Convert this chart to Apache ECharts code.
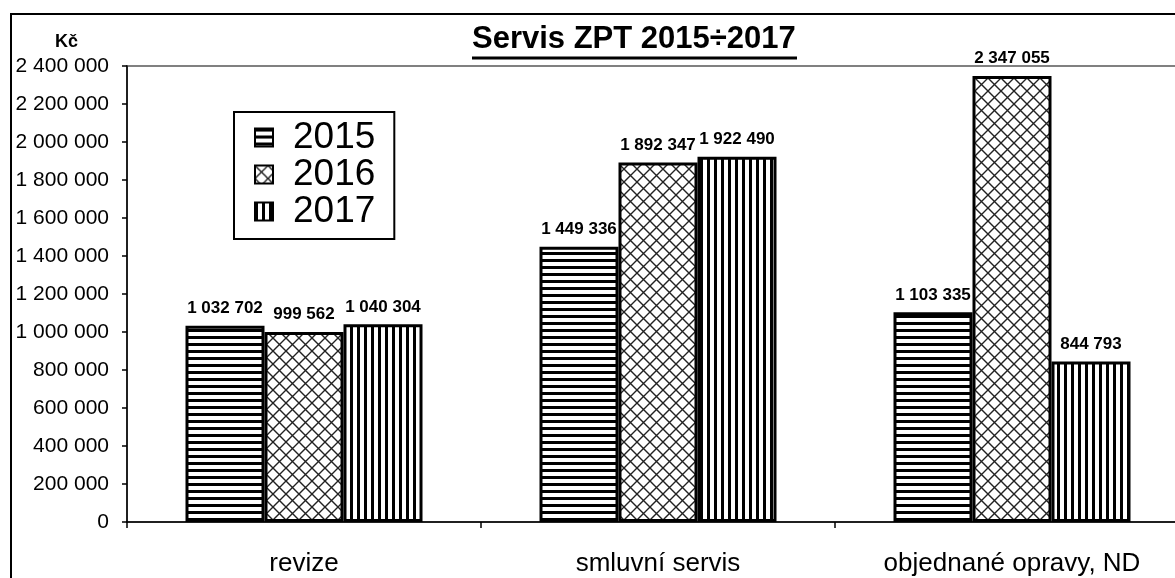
<!DOCTYPE html>
<html>
<head>
<meta charset="utf-8">
<title>Servis ZPT 2015÷2017</title>
<script src="https://cdn.jsdelivr.net/npm/echarts@6/dist/echarts.min.js"></script>
<style>
    body { margin: 0; background: #fff; overflow: hidden; }
    #main { width: 1200px; height: 578px; }
</style>
</head>
<body>
<div id="main"></div>
<script type="text/javascript">
    var categories = ['revize', 'smluvní servis', 'objednané opravy, ND'];
    var years = ['2015', '2016', '2017'];
    var values2015 = [1032702, 1449336, 1103335];
    var values2016 = [999562, 1892347, 2347055];
    var values2017 = [1040304, 1922490, 844793];

    // číslo s mezerami jako oddělovač tisíců
    function fmt(v) {
        return String(v).replace(/\B(?=(\d{3})+(?!\d))/g, ' ');
    }

    // výplně sloupců
    function hStripes() {
        let c = document.createElement('canvas');
        c.width = 8; c.height = 7;
        let ctx = c.getContext('2d');
        ctx.fillStyle = '#fff'; ctx.fillRect(0, 0, 8, 7);
        ctx.fillStyle = '#000'; ctx.fillRect(0, 0, 8, 3);
        return c;
    }
    function vStripes() {
        let c = document.createElement('canvas');
        c.width = 7; c.height = 8;
        let ctx = c.getContext('2d');
        ctx.fillStyle = '#fff'; ctx.fillRect(0, 0, 7, 8);
        ctx.fillStyle = '#000'; ctx.fillRect(0, 0, 3, 8);
        return c;
    }
    function crossHatch() {
        let c = document.createElement('canvas');
        c.width = 13; c.height = 13;
        let ctx = c.getContext('2d');
        ctx.fillStyle = '#fff'; ctx.fillRect(0, 0, 13, 13);
        ctx.strokeStyle = '#222'; ctx.lineWidth = 1.4;
        ctx.beginPath();
        ctx.moveTo(0, 0); ctx.lineTo(13, 13);
        ctx.moveTo(13, 0); ctx.lineTo(0, 13);
        ctx.stroke();
        return c;
    }
    var fills = [hStripes(), crossHatch(), vStripes()];
    var allValues = [values2015, values2016, values2017];

    var font = 'Arial, "Liberation Sans", sans-serif';

    var series = years.map(function (y, i) {
        return {
            name: y,
            type: 'bar',
            barWidth: 79,
            barGap: '0%',
            data: allValues[i],
            itemStyle: {
                color: { image: fills[i], repeat: 'repeat' },
                borderColor: '#000',
                borderWidth: 3
            },
            label: {
                show: true,
                position: 'top',
                distance: 9,
                color: '#000',
                fontFamily: font,
                fontWeight: 'bold',
                fontSize: 17,
                formatter: function (p) { return fmt(p.value); }
            }
        };
    });

    var chart = echarts.init(document.getElementById('main'));
    chart.setOption({
        animation: false,
        backgroundColor: '#fff',
        title: [{
            text: 'Servis ZPT 2015÷2017',
            left: 472,
            top: 24,
            padding: 0,
            textStyle: { fontFamily: font, fontWeight: 'bold', fontSize: 31, color: '#000' }
        }, {
            text: 'Kč',
            left: 55,
            top: 33,
            padding: 0,
            textStyle: { fontFamily: font, fontWeight: 'bold', fontSize: 18, color: '#000' }
        }],
        legend: {
            data: years,
            orient: 'vertical',
            icon: 'rect',
            left: 234,
            top: 112,
            padding: [7, 19, 9, 20],
            itemGap: 0,
            itemWidth: 18,
            itemHeight: 18,
            borderColor: '#000',
            borderWidth: 2,
            textStyle: { fontFamily: font, fontSize: 37, lineHeight: 36, color: '#000', padding: [0, 0, 0, 15] }
        },
        grid: {
            left: 127,
            top: 66,
            right: 11,
            height: 456,
            show: true,
            borderColor: '#808080',
            borderWidth: 2
        },
        xAxis: {
            type: 'category',
            data: categories,
            axisLine: { lineStyle: { color: '#000', width: 1.5 } },
            axisTick: { show: true, length: 6, lineStyle: { color: '#000', width: 1.5 } },
            axisLabel: { fontFamily: font, fontSize: 26, color: '#000', margin: 29 }
        },
        yAxis: {
            type: 'value',
            min: 0,
            max: 2400000,
            interval: 200000,
            splitLine: { show: false },
            axisLine: { show: true, lineStyle: { color: '#000', width: 1.5 } },
            axisTick: { show: true, length: 5, lineStyle: { color: '#000', width: 1.5 } },
            axisLabel: { fontFamily: font, fontSize: 21, color: '#000', margin: 18, formatter: fmt }
        },
        graphic: [{
            type: 'line',
            shape: { x1: 472, y1: 58, x2: 797, y2: 58 },
            style: { stroke: '#000', lineWidth: 3 }
        }, {
            type: 'rect',
            shape: { x: 11, y: 14, width: 1250, height: 620 },
            style: { fill: null, stroke: '#000', lineWidth: 2 },
            silent: true,
            z: 100
        }],
        series: series
    });
</script>
</body>
</html>
